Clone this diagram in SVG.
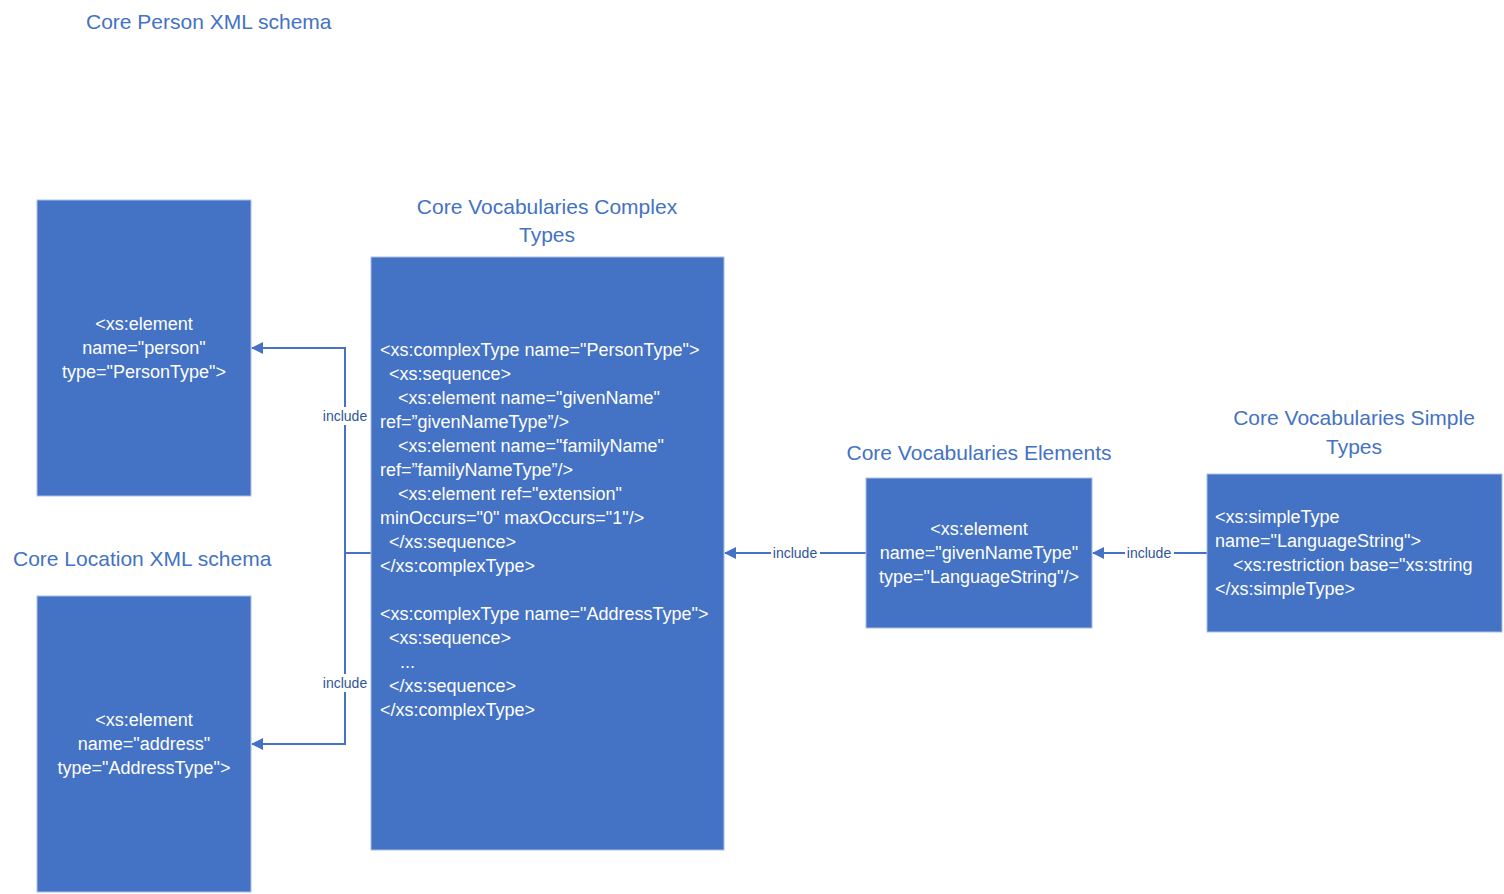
<svg xmlns="http://www.w3.org/2000/svg" width="1504" height="894" viewBox="0 0 1504 894">
<style>
.box{fill:#4472C4;stroke:#A9BEE4;stroke-width:1}
.t{font-family:"Liberation Sans",Arial,sans-serif;font-size:18px;fill:#FFFFFF}
.c{text-anchor:middle}
.title{font-family:"Liberation Sans",Arial,sans-serif;font-size:21px;fill:#4472C4}
.lbl{font-family:"Liberation Sans",Arial,sans-serif;font-size:14px;fill:#2F5597;text-anchor:middle}
.ln{fill:none;stroke:#4472C4;stroke-width:2}
</style>
<defs>
<marker id="ah" markerWidth="12" markerHeight="12" refX="11" refY="6" orient="auto" markerUnits="userSpaceOnUse">
<path d="M0,0 L12,6 L0,12 Z" fill="#4472C4"/>
</marker>
</defs>
<rect width="1504" height="894" fill="#FFFFFF"/>
<text class="title" x="86" y="29">Core Person XML schema</text>
<text class="title" x="13" y="566">Core Location XML schema</text>
<text class="title c" x="547" y="214">Core Vocabularies Complex</text>
<text class="title c" x="547" y="242">Types</text>
<text class="title c" x="979" y="460">Core Vocabularies Elements</text>
<text class="title c" x="1354" y="425">Core Vocabularies Simple</text>
<text class="title c" x="1354" y="454">Types</text>

<g id="connectors">
<path class="ln" d="M371,553 L345,553 L345,425"/>
<path class="ln" d="M345,407 L345,348 L252,348" marker-end="url(#ah)"/>
<path class="ln" d="M345,553 L345,674"/>
<path class="ln" d="M345,692 L345,744 L252,744" marker-end="url(#ah)"/>
<path class="ln" d="M866,553 L820,553"/>
<path class="ln" d="M771,553 L725,553" marker-end="url(#ah)"/>
<path class="ln" d="M1207,553 L1174,553"/>
<path class="ln" d="M1125,553 L1093,553" marker-end="url(#ah)"/>
<text class="lbl" x="345" y="421">include</text>
<text class="lbl" x="345" y="688">include</text>
<text class="lbl" x="795" y="558">include</text>
<text class="lbl" x="1149" y="558">include</text>
</g>

<g id="person">
<rect class="box" x="37" y="200" width="214" height="296"/>
<text class="t c" x="144" y="330">&lt;xs:element</text>
<text class="t c" x="144" y="354">name="person"</text>
<text class="t c" x="144" y="378">type="PersonType"&gt;</text>
</g>

<g id="location">
<rect class="box" x="37" y="596" width="214" height="296"/>
<text class="t c" x="144" y="726">&lt;xs:element</text>
<text class="t c" x="144" y="750">name="address"</text>
<text class="t c" x="144" y="774">type="AddressType"&gt;</text>
</g>

<g id="complex">
<rect class="box" x="371" y="257" width="353" height="593"/>
<text class="t" x="380" y="356">&lt;xs:complexType name="PersonType"&gt;</text>
<text class="t" x="389" y="380">&lt;xs:sequence&gt;</text>
<text class="t" x="398" y="404">&lt;xs:element name="givenName"</text>
<text class="t" x="380" y="428">ref=”givenNameType”/&gt;</text>
<text class="t" x="398" y="452">&lt;xs:element name="familyName"</text>
<text class="t" x="380" y="476">ref=”familyNameType”/&gt;</text>
<text class="t" x="398" y="500">&lt;xs:element ref="extension"</text>
<text class="t" x="380" y="524">minOccurs="0" maxOccurs="1"/&gt;</text>
<text class="t" x="389" y="548">&lt;/xs:sequence&gt;</text>
<text class="t" x="380" y="572">&lt;/xs:complexType&gt;</text>
<text class="t" x="380" y="620">&lt;xs:complexType name="AddressType"&gt;</text>
<text class="t" x="389" y="644">&lt;xs:sequence&gt;</text>
<text class="t" x="400" y="668">...</text>
<text class="t" x="389" y="692">&lt;/xs:sequence&gt;</text>
<text class="t" x="380" y="716">&lt;/xs:complexType&gt;</text>
</g>

<g id="elements">
<rect class="box" x="866" y="478" width="226" height="150"/>
<text class="t c" x="979" y="535">&lt;xs:element</text>
<text class="t c" x="979" y="559">name="givenNameType"</text>
<text class="t c" x="979" y="583">type="LanguageString"/&gt;</text>
</g>

<g id="simple">
<rect class="box" x="1207" y="474" width="295" height="158"/>
<text class="t" x="1215" y="523">&lt;xs:simpleType</text>
<text class="t" x="1215" y="547">name="LanguageString"&gt;</text>
<text class="t" x="1233" y="571">&lt;xs:restriction base="xs:string</text>
<text class="t" x="1215" y="595">&lt;/xs:simpleType&gt;</text>
</g>
</svg>
